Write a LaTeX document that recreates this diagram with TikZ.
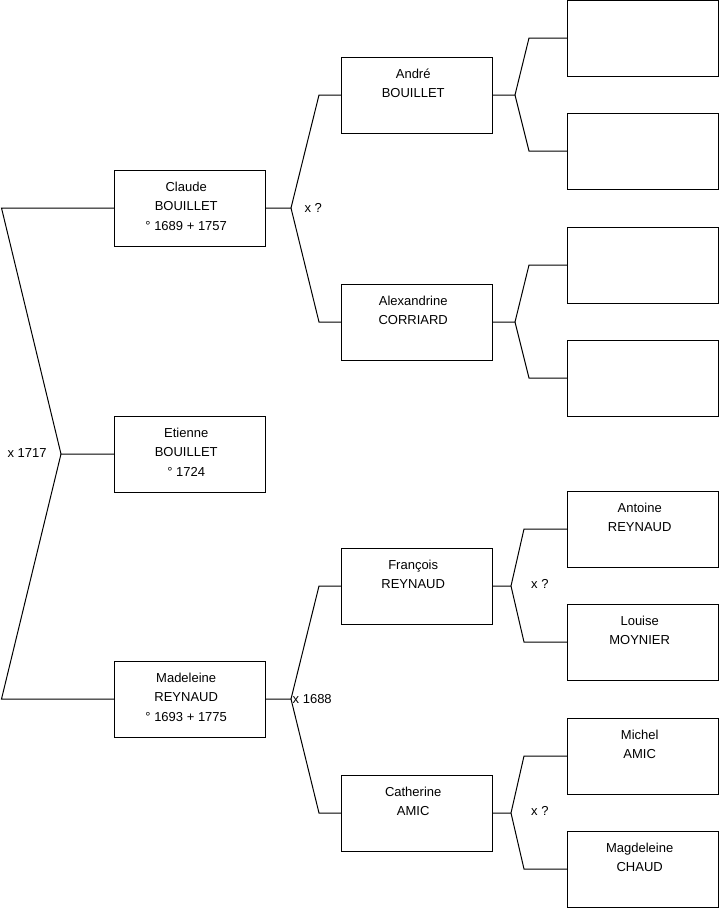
\documentclass[tikz,border=0pt]{standalone}
\usepackage{fontspec}
\setmainfont{Liberation Sans}
\begin{document}
\begin{tikzpicture}[x=1pt,y=-1pt,
  box/.style={draw=black, line width=1pt, minimum width=151pt, minimum height=76pt, inner sep=0pt, outer sep=0pt},
  txt/.style={anchor=north, align=center, inner sep=0pt, font=\fontsize{13}{19.5}\selectfont},
  lbl/.style={anchor=base west, inner sep=0pt, font=\fontsize{13}{19.5}\selectfont},
  conn/.style={draw=black, line width=1pt}]
\useasboundingbox (0,0) rectangle (719,908);
% column 1
\node[box] (claude) at (189.5,208) {};
\node[box] (etienne) at (189.5,454) {};
\node[box] (madeleine) at (189.5,699) {};
% column 2
\node[box] (andre) at (416.5,95) {};
\node[box] (alex) at (416.5,322) {};
\node[box] (francois) at (416.5,586) {};
\node[box] (catherine) at (416.5,813) {};
% column 3
\node[box] (r1) at (643,38) {};
\node[box] (r2) at (643,151) {};
\node[box] (r3) at (643,265) {};
\node[box] (r4) at (643,378) {};
\node[box] (r5) at (643,529) {};
\node[box] (r6) at (643,642) {};
\node[box] (r7) at (643,756) {};
\node[box] (r8) at (643,869) {};
% texts
\tikzset{tshift/.style={xshift=-3.3pt,yshift=-7.4pt}}
\node[txt] (claudeT) at ([tshift]claude.north) {\strut Claude\\BOUILLET\\° 1689 + 1757};
\node[txt] (etienneT) at ([tshift]etienne.north) {\strut Etienne\\BOUILLET\\° 1724};
\node[txt] (madeleineT) at ([tshift]madeleine.north) {\strut Madeleine\\REYNAUD\\° 1693 + 1775};
\node[txt] (andreT) at ([tshift]andre.north) {\strut André\\BOUILLET};
\node[txt] (alexT) at ([tshift]alex.north) {\strut Alexandrine\\CORRIARD};
\node[txt] (francoisT) at ([tshift]francois.north) {\strut François\\REYNAUD};
\node[txt] (catherineT) at ([tshift]catherine.north) {\strut Catherine\\AMIC};
\node[txt] (r5T) at ([tshift]r5.north) {\strut Antoine\\REYNAUD};
\node[txt] (r6T) at ([tshift]r6.north) {\strut Louise\\MOYNIER};
\node[txt] (r7T) at ([tshift]r7.north) {\strut Michel\\AMIC};
\node[txt] (r8T) at ([tshift]r8.north) {\strut Magdeleine\\CHAUD};
% junctions
\coordinate (j0) at (61,454); \coordinate (a0) at (1.5,208); \coordinate (b0) at (1.5,699);
\coordinate (j1) at (291,208); \coordinate (a1) at (319,95); \coordinate (b1) at (319,322);
\coordinate (j6) at (291,699); \coordinate (a6) at (319,586); \coordinate (b6) at (319,813);
\coordinate (j2) at (515,95); \coordinate (a2) at (529,38); \coordinate (b2) at (529,151);
\coordinate (j3) at (515,322); \coordinate (a3) at (529,265); \coordinate (b3) at (529,378);
\coordinate (j4) at (511,586); \coordinate (a4) at (524,529); \coordinate (b4) at (524,642);
\coordinate (j5) at (511,813); \coordinate (a5) at (524,756); \coordinate (b5) at (524,869);
% connectors
\draw[conn] (etienne.west) -- (j0) -- (a0) -- (claude.west);
\draw[conn] (j0) -- (b0) -- (madeleine.west);
\draw[conn] (claude.east) -- (j1) -- (a1) -- (andre.west);
\draw[conn] (j1) -- (b1) -- (alex.west);
\draw[conn] (madeleine.east) -- (j6) -- (a6) -- (francois.west);
\draw[conn] (j6) -- (b6) -- (catherine.west);
\draw[conn] (andre.east) -- (j2) -- (a2) -- (r1.west);
\draw[conn] (j2) -- (b2) -- (r2.west);
\draw[conn] (alex.east) -- (j3) -- (a3) -- (r3.west);
\draw[conn] (j3) -- (b3) -- (r4.west);
\draw[conn] (francois.east) -- (j4) -- (a4) -- (r5.west);
\draw[conn] (j4) -- (b4) -- (r6.west);
\draw[conn] (catherine.east) -- (j5) -- (a5) -- (r7.west);
\draw[conn] (j5) -- (b5) -- (r8.west);
% labels
\node[lbl] (m0) at (7.3,457.3) {x 1717};
\node[lbl] (m1) at (304.3,212) {x ?};
\node[lbl] (m6) at (292.5,703) {x 1688};
\node[lbl] (m4) at (531,588.3) {x ?};
\node[lbl] (m5) at (531,815.3) {x ?};
\end{tikzpicture}
\end{document}
